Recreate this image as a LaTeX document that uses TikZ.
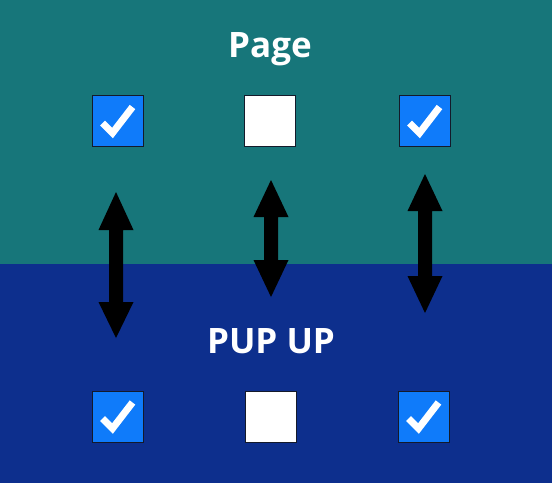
\documentclass[tikz,border=0pt]{standalone}
\usepackage{fontspec}
\setmainfont{Open Sans}
\definecolor{teal0}{HTML}{17767A}
\definecolor{blue0}{HTML}{0D2F8D}
\definecolor{cbblue}{HTML}{0F7BFA}
\definecolor{cbborder}{HTML}{141A2A}
\begin{document}
\begin{tikzpicture}[x=1pt,y=-1pt,
  box/.style={draw=cbborder,line width=1pt,minimum width=51pt,minimum height=51pt,inner sep=0pt,outer sep=0pt},
  onbox/.style={box,fill=cbblue},
  offbox/.style={box,fill=white},
  tick/.style={draw=white,line width=7pt,line cap=butt,line join=miter},
  arrowfill/.style={fill=black},
  title/.style={text=white,font=\bfseries\fontsize{35}{40}\selectfont,anchor=base,inner sep=0pt}]
\useasboundingbox (0,0) rectangle (552,483);
\fill[teal0] (0,0) rectangle (552,264);
\fill[blue0] (0,264) rectangle (552,483);
\node[title] (page) at (270,57) {Page};
\node[title] (pupup) at (271,353) {PUP UP};
% checkboxes
\node[onbox]  (t1) at (117.5,121) {};
\node[offbox] (t2) at (270,121) {};
\node[onbox]  (t3) at (424.5,121) {};
\node[onbox]  (b1) at (117.5,416.5) {};
\node[offbox] (b2) at (270.5,416.5) {};
\node[onbox]  (b3) at (423.5,416.5) {};
\foreach \n in {t1,t3,b1,b3}{
  \draw[tick] ([shift={(-15,2)}]\n.center) -- ([shift={(-5,12)}]\n.center) -- ([shift={(15,-14)}]\n.center);
}
% double arrows: x, tip top, head base top, head base bottom, tip bottom
\foreach \x/\a/\b/\c/\d [count=\i] in {116/192/230/302/338, 271/180/217/260/297, 425/174/211/276/313}{
  \fill[arrowfill] (\x,\a) -- (\x+17.5,\b) -- (\x+7,\b) -- (\x+7,\c) -- (\x+17.5,\c) -- (\x,\d)
    -- (\x-17.5,\c) -- (\x-7,\c) -- (\x-7,\b) -- (\x-17.5,\b) -- cycle;
}
\end{tikzpicture}
\end{document}
